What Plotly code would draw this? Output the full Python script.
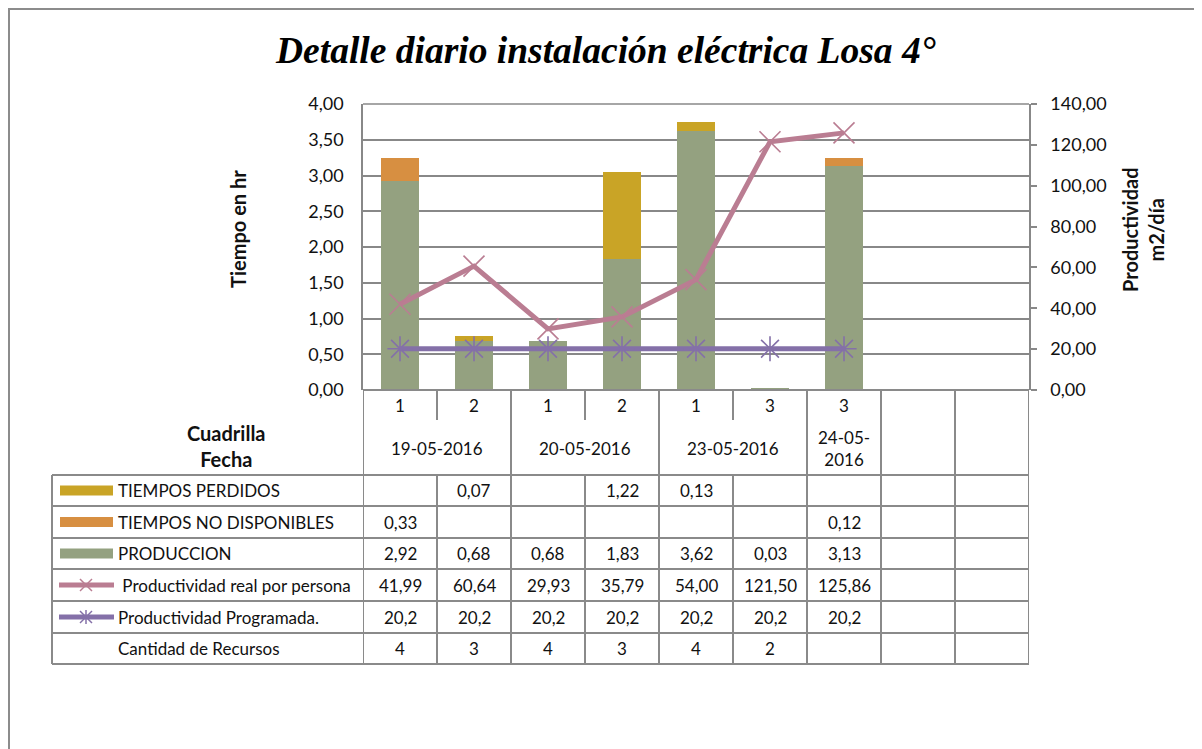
import plotly.graph_objects as go

W, H = 1202, 749

# ---------------- data ----------------
categories = [0, 1, 2, 3, 4, 5, 6, 7, 8]
cuadrilla = ["1", "2", "1", "2", "1", "3", "3", "", ""]
fechas = ["19-05-2016", "20-05-2016", "23-05-2016", "24-05-<br>2016", "", ""]
fecha_spans = [2, 2, 2, 1, 1, 1]
tiempos_perdidos = [None, 0.07, None, 1.22, 0.13, None, None, None, None]
tiempos_no_disp = [0.33, None, None, None, None, None, 0.12, None, None]
produccion = [2.92, 0.68, 0.68, 1.83, 3.62, 0.03, 3.13, None, None]
prod_real = [41.99, 60.64, 29.93, 35.79, 54.00, 121.50, 125.86, None, None]
prod_prog = [20.2, 20.2, 20.2, 20.2, 20.2, 20.2, 20.2, None, None]
recursos = ["4", "3", "4", "3", "4", "2", "", "", ""]

# ---------------- styles ----------------
C_PROD = "#94A180"
C_NODISP = "#D78F41"
C_PERD = "#C9A426"
C_REAL = "#BA7D92"
C_PROG = "#8470A8"
GRID = "#888888"
FONT = "Lato"
TXT = "#111111"

OFF = 8  # page body margin


def px(x):
    return (x - OFF) / W


def py(y):
    return 1 - (y - OFF) / H


X0, X1, Y0, Y1 = 363, 1029, 104, 390

fig = go.Figure()
fig.add_trace(go.Bar(x=categories, y=produccion, name="PRODUCCION", marker=dict(color=C_PROD, line_width=0)))
fig.add_trace(go.Bar(x=categories, y=tiempos_no_disp, name="TIEMPOS NO DISPONIBLES", marker=dict(color=C_NODISP, line_width=0)))
fig.add_trace(go.Bar(x=categories, y=tiempos_perdidos, name="TIEMPOS PERDIDOS", marker=dict(color=C_PERD, line_width=0)))
fig.add_trace(go.Scatter(x=categories, y=prod_real, yaxis="y2", mode="lines+markers",
                         name="Productividad real por persona",
                         line=dict(color=C_REAL, width=5),
                         marker=dict(symbol="x-thin-open", size=21, line=dict(color=C_REAL, width=1.6))))
fig.add_trace(go.Scatter(x=categories, y=prod_prog, yaxis="y2", mode="lines+markers",
                         name="Productividad Programada.",
                         line=dict(color=C_PROG, width=5),
                         marker=dict(symbol="asterisk-open", size=21, line=dict(color=C_PROG, width=1.6))))

fig.update_layout(
    width=W, height=H, autosize=False,
    margin=dict(l=0, r=0, t=0, b=0, pad=0, autoexpand=False),
    paper_bgcolor="white", plot_bgcolor="white",
    barmode="stack", bargap=0.49,
    showlegend=False,
    separators=",.",
    font=dict(family=FONT, color=TXT),
    xaxis=dict(domain=[px(X0), px(X1)], range=[-0.5, 8.5], showticklabels=False, automargin=False,
               showgrid=False, zeroline=False, showline=False, ticks=""),
    yaxis=dict(domain=[py(Y1), py(Y0)], range=[0, 4], dtick=0.5, tickformat=".2f", automargin=False,
               showgrid=True, gridcolor=GRID, gridwidth=1.5, zeroline=False,
               showline=True, linecolor=GRID, linewidth=1.5, ticks="",
               tickfont=dict(family=FONT, size=18, color=TXT), ticklabelstandoff=14),
    yaxis2=dict(overlaying="y", side="right", anchor="x", range=[0, 140], dtick=20, tickformat=".2f",
                automargin=False,
                showgrid=False, zeroline=False, showline=True, linecolor=GRID, linewidth=1.5,
                ticks="outside", ticklen=6, tickcolor=GRID, tickwidth=1.5,
                tickfont=dict(family=FONT, size=18, color=TXT), ticklabelstandoff=10),
)

shapes = []
ann = []


def note(x, y, text, font, xref="paper", xanchor="center", yanchor="middle", **kw):
    ann.append(dict(xref=xref, yref="paper", x=x, y=y, text=text, showarrow=False, font=font,
                    xanchor=xanchor, yanchor=yanchor, **kw))


# outer border
shapes.append(dict(type="rect", xref="paper", yref="paper", x0=px(9), x1=px(1200), y0=py(790), y1=py(9),
                   line=dict(color="#8C8C8C", width=2)))
# top gridline (4,00)
shapes.append(dict(type="line", xref="paper", yref="paper", x0=px(X0), x1=px(X1), y0=py(Y0), y1=py(Y0),
                   line=dict(color=GRID, width=1.5)))

# title
note(px(605), py(50), "<b><i>Detalle diario instalación eléctrica Losa 4°</i></b>",
     dict(family="Liberation Serif", size=37.5, color="#000000"))
# axis titles
note(px(238), py(229), "<b>Tiempo en hr</b>", dict(family=FONT, size=20, color=TXT), textangle=-90)
note(px(1143), py(230), "<b>Productividad<br>m2/día</b>", dict(family=FONT, size=20, color=TXT),
     textangle=-90)

# ---------------- data table ----------------
LC = "#8A8A8A"
LW = 2
row_lines = [475, 506, 538, 569, 601, 633, 664]
for yl in row_lines:
    shapes.append(dict(type="line", xref="paper", yref="paper", x0=px(52), x1=px(X1), y0=py(yl), y1=py(yl),
                       line=dict(color=LC, width=LW)))
shapes.append(dict(type="line", xref="paper", yref="paper", x0=px(X0), x1=px(X1), y0=py(Y1), y1=py(Y1),
                   line=dict(color=LC, width=LW)))
shapes.append(dict(type="line", xref="paper", yref="paper", x0=px(52), x1=px(52), y0=py(475), y1=py(664),
                   line=dict(color=LC, width=LW)))

# vertical lines: group boundaries full, inner boundaries short + table part
group_bounds = [0]
for s in fecha_spans:
    group_bounds.append(group_bounds[-1] + s)
for k in range(len(categories) + 1):
    xb = k - 0.5
    if k in group_bounds:
        shapes.append(dict(type="line", xref="x", yref="paper", x0=xb, x1=xb, y0=py(Y1), y1=py(664),
                           line=dict(color=LC, width=LW)))
    else:
        shapes.append(dict(type="line", xref="x", yref="paper", x0=xb, x1=xb, y0=py(Y1), y1=py(420),
                           line=dict(color=LC, width=LW)))
        shapes.append(dict(type="line", xref="x", yref="paper", x0=xb, x1=xb, y0=py(475), y1=py(664),
                           line=dict(color=LC, width=LW)))

TF = dict(family=FONT, size=17, color=TXT)
# cuadrilla row
for i, c in enumerate(cuadrilla):
    note(categories[i], py(405), c, TF, xref="x")
# fecha row
start = 0
for f, s in zip(fechas, fecha_spans):
    note((start + start + s - 1) / 2, py(448), f, TF, xref="x")
    start += s
note(px(226), py(446), "<b>Cuadrilla<br>Fecha</b>", dict(family=FONT, size=20, color=TXT))


def fmt(v, nd=2):
    if v is None:
        return ""
    return f"{v:.{nd}f}".replace(".", ",")


rows = [
    ("TIEMPOS PERDIDOS", [fmt(v) for v in tiempos_perdidos], "bar", C_PERD),
    ("TIEMPOS NO DISPONIBLES", [fmt(v) for v in tiempos_no_disp], "bar", C_NODISP),
    ("PRODUCCION", [fmt(v) for v in produccion], "bar", C_PROD),
    (" Productividad real por persona", [fmt(v) for v in prod_real], "x", C_REAL),
    ("Productividad Programada.", [fmt(v, 1) for v in prod_prog], "ast", C_PROG),
    ("Cantidad de Recursos", recursos, None, None),
]
for r, (label, vals, kind, col) in enumerate(rows):
    yt, yb = row_lines[r], row_lines[r + 1]
    yc = (yt + yb) / 2
    for i, v in enumerate(vals):
        note(categories[i], py(yc), v, TF, xref="x")
    note(px(116), py(yc), label, TF, xanchor="left")
    if kind == "bar":
        shapes.append(dict(type="rect", xref="paper", yref="paper", x0=px(60), x1=px(113),
                           y0=py(yc - 5), y1=py(yc + 5), line=dict(width=0), fillcolor=col))
    elif kind in ("x", "ast"):
        shapes.append(dict(type="line", xref="paper", yref="paper", x0=px(59), x1=px(114),
                           y0=py(yc), y1=py(yc), line=dict(color=col, width=5)))
        d = 6
        mx = 86
        shapes.append(dict(type="line", xref="paper", yref="paper", x0=px(mx - d), x1=px(mx + d),
                           y0=py(yc - d), y1=py(yc + d), line=dict(color=col, width=1.5)))
        shapes.append(dict(type="line", xref="paper", yref="paper", x0=px(mx - d), x1=px(mx + d),
                           y0=py(yc + d), y1=py(yc - d), line=dict(color=col, width=1.5)))
        if kind == "ast":
            shapes.append(dict(type="line", xref="paper", yref="paper", x0=px(mx), x1=px(mx),
                               y0=py(yc - d - 1), y1=py(yc + d + 1), line=dict(color=col, width=1.5)))

fig.update_layout(shapes=shapes, annotations=ann)
fig.write_html("out.html")
